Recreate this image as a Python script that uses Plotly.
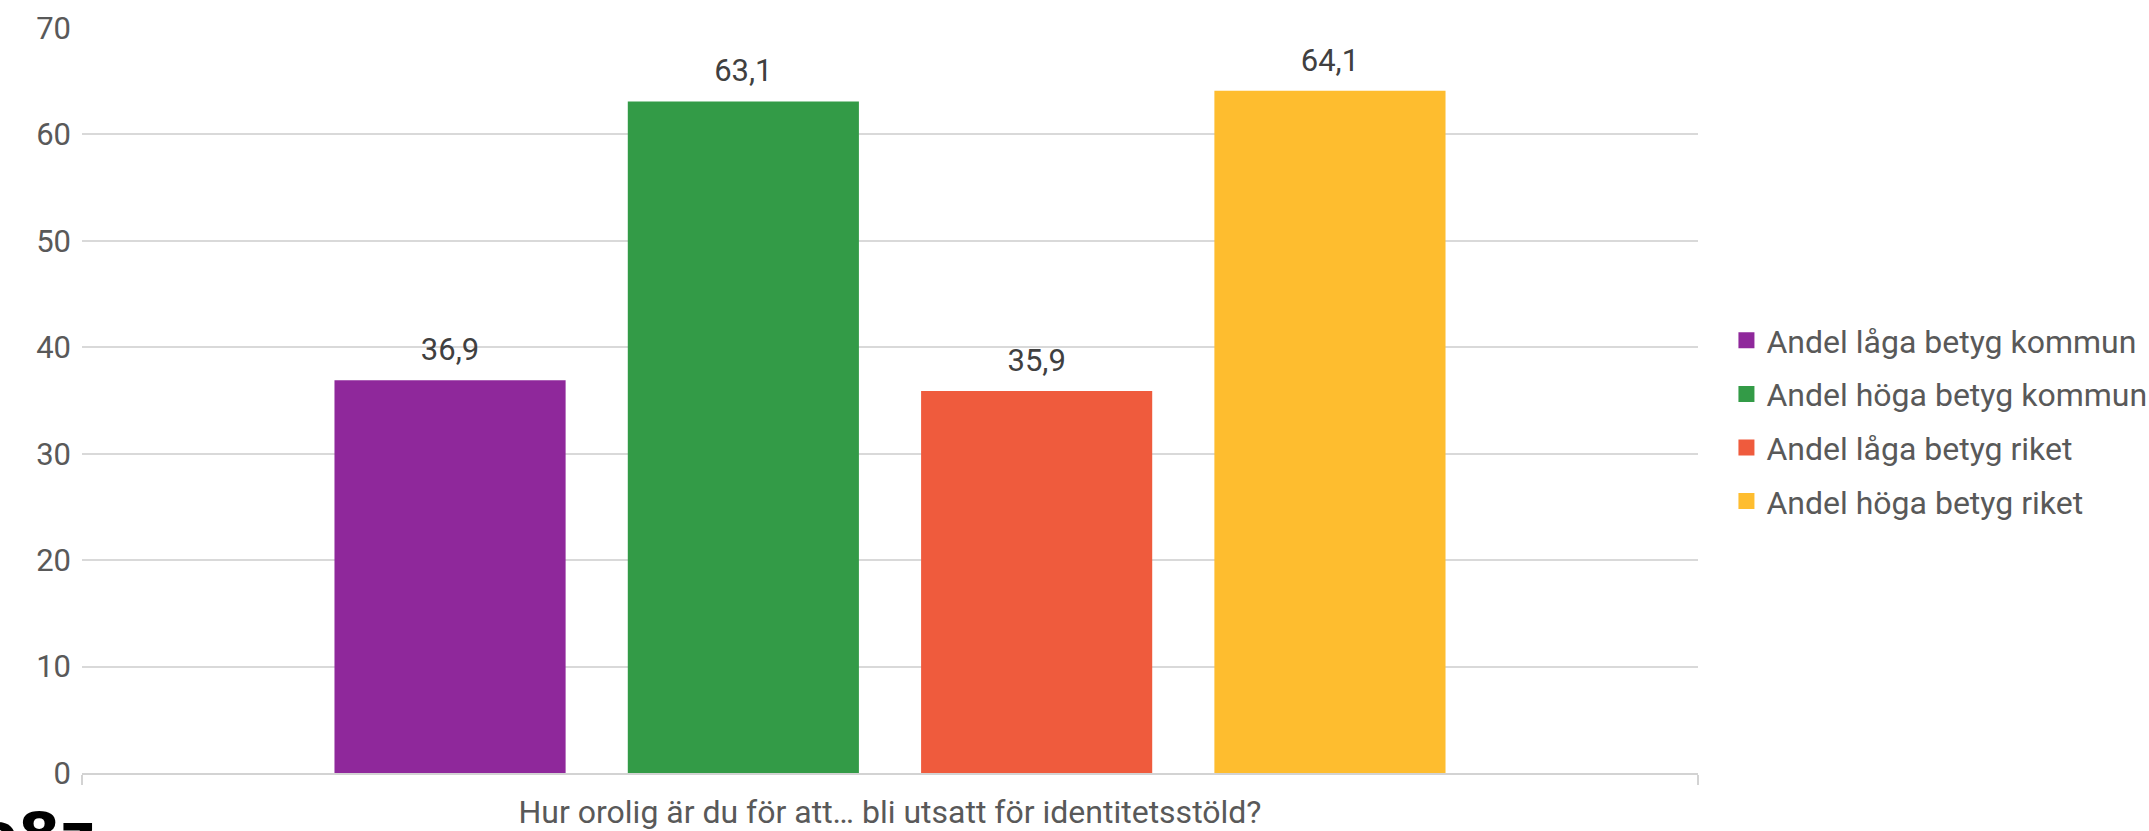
import plotly.graph_objects as go

category = ["Hur orolig är du för att… bli utsatt för identitetsstöld?"]
series_names = ["Andel låga betyg kommun", "Andel höga betyg kommun",
                "Andel låga betyg riket", "Andel höga betyg riket"]
values_laga_kommun = [36.9]
values_hoga_kommun = [63.1]
values_laga_riket = [35.9]
values_hoga_riket = [64.1]
series_values = [values_laga_kommun, values_hoga_kommun, values_laga_riket, values_hoga_riket]
colors = ["#8F289B", "#339B47", "#EF5B3D", "#FEBD2F"]
y_ticks = [0, 10, 20, 30, 40, 50, 60, 70]

FONT = "Roboto"
fig = go.Figure()

for i, (name, vals, col) in enumerate(zip(series_names, series_values, colors)):
    fig.add_trace(go.Bar(
        x=category, y=vals, name=name, marker=dict(color=col, line=dict(width=0)),
        showlegend=False, offsetgroup=f"g{i}", hoverinfo="skip",
    ))
    fig.add_trace(go.Scatter(
        x=category, y=vals, mode="markers+text", offsetgroup=f"g{i}",
        text=[f"{v:.1f}".replace(".", ",") for v in vals],
        textposition="top center",
        textfont=dict(family=FONT, size=31, color="#404040"),
        marker=dict(size=18, opacity=0), showlegend=False, hoverinfo="skip",
    ))
    fig.add_trace(go.Scatter(
        x=[None], y=[None], mode="markers", name=name, offsetgroup=f"g{i}",
        marker=dict(symbol="square", size=18, color=col),
        legendgroup=f"g{i}", showlegend=True,
    ))

fig.update_layout(
    width=2149, height=831,
    margin=dict(l=82, r=451, t=28, b=58, autoexpand=False),
    plot_bgcolor="white", paper_bgcolor="white",
    barmode="group", bargap=0.274, bargroupgap=0.212,
    scattermode="group", scattergap=0.274,
    font=dict(family=FONT, size=31, color="#595959"),
    legend=dict(x=1.0176, xanchor="left", y=0.4725, yanchor="middle",
                font=dict(family=FONT, size=32, color="#595959"),
                traceorder="grouped", tracegroupgap=9, itemsizing="trace",
                bgcolor="rgba(0,0,0,0)"),
    showlegend=True,
)
fig.update_xaxes(
    showline=True, linecolor="#d3d3d3", linewidth=2,
    ticks="outside", tickson="boundaries", ticklen=10, tickwidth=2, tickcolor="#d3d3d3",
    tickfont=dict(family=FONT, size=32, color="#595959"), ticklabelstandoff=10,
    showgrid=False, automargin=False,
)
fig.update_yaxes(
    range=[0, 70], tickvals=y_ticks, showgrid=True, gridcolor="#d9d9d9", gridwidth=2,
    zeroline=False, showline=False, ticks="", ticklabelstandoff=10,
    tickfont=dict(family=FONT, size=31, color="#595959"), automargin=False,
)

fig.add_annotation(
    text="<b>o8z</b>", xref="paper", yref="paper", x=-0.0662, y=-0.0335,
    xanchor="left", yanchor="top", showarrow=False,
    font=dict(family="DejaVu Sans", size=60, color="black"),
)

fig.write_html("out.html", config={"displayModeBar": False},
               post_script="document.body.style.margin='0';")
